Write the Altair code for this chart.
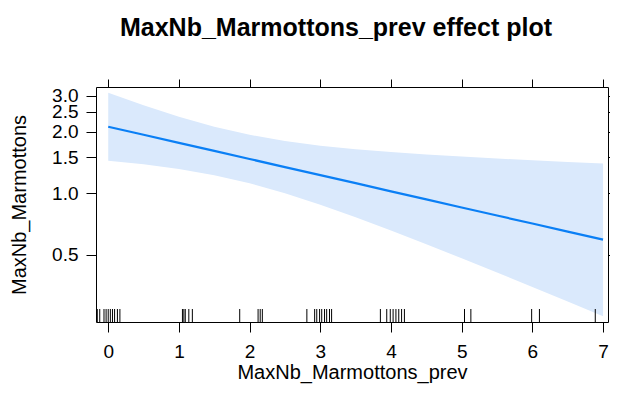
import altair as alt
import pandas as pd

# Effect estimates
x_vals = [0, 0.5, 1, 1.5, 2, 2.5, 3, 3.5, 4, 4.5, 5, 5.5, 6, 6.5, 7]
fit = [2.115, 1.931, 1.763, 1.610, 1.470, 1.342, 1.225, 1.119, 1.021, 0.932, 0.851, 0.777, 0.710, 0.648, 0.592]
upper = [3.105, 2.694, 2.368, 2.116, 1.931, 1.802, 1.709, 1.642, 1.589, 1.547, 1.510, 1.478, 1.449, 1.423, 1.398]
lower = [1.441, 1.384, 1.313, 1.224, 1.119, 0.999, 0.878, 0.762, 0.656, 0.562, 0.480, 0.409, 0.347, 0.295, 0.250]

# Rug (jittered observed values)
rug = [-0.155, -0.12, -0.06, -0.03, 0.0, 0.03, 0.06, 0.09, 0.13, 0.165,
       1.05, 1.07, 1.09, 1.14, 1.19,
       1.86, 2.12, 2.15, 2.18,
       2.81, 2.92, 2.95, 2.99, 3.02, 3.06, 3.09, 3.13, 3.16,
       3.85, 3.94, 3.99, 4.03, 4.07, 4.11, 4.15, 4.19,
       5.04, 5.13,
       5.99, 6.10,
       6.89]

x_ticks = [0, 1, 2, 3, 4, 5, 6, 7]
y_ticks = [0.5, 1.0, 1.5, 2.0, 2.5, 3.0]

df = pd.DataFrame({"x": x_vals, "fit": fit, "upper": upper, "lower": lower})
rug_df = pd.DataFrame({"r": rug})

W, H = 512, 235
FONT = "Liberation Sans"

xscale = alt.Scale(domain=[-0.173, 7.07], nice=False, zero=False)
yscale = alt.Scale(type="log", domain=[0.234, 3.31], nice=False)

band = alt.Chart(df).mark_area(color="#DAE9FC", opacity=1).encode(
    x=alt.X("x:Q", scale=xscale,
            axis=alt.Axis(values=x_ticks, orient="bottom", title="MaxNb_Marmottons_prev",
                          format="d", tickSize=10, labelPadding=10, titlePadding=1)),
    y=alt.Y("upper:Q", scale=yscale,
            axis=alt.Axis(values=y_ticks, orient="left", title="MaxNb_Marmottons",
                          format=".1f", tickSize=10, labelPadding=8, titlePadding=22,
                          labelOverlap=False)),
    y2="lower:Q",
)

line = alt.Chart(df).mark_line(color="#0A7FF5", strokeWidth=2.2).encode(
    x=alt.X("x:Q", scale=xscale,
            axis=alt.Axis(values=x_ticks, orient="top", labels=False, title=None, tickSize=8)),
    y=alt.Y("fit:Q", scale=yscale,
            axis=alt.Axis(values=y_ticks, orient="right", labels=False, title=None, tickSize=8)),
)

rug_layer = alt.Chart(rug_df).mark_rule(color="black", strokeWidth=1).encode(
    x=alt.X("r:Q", scale=xscale, axis=None),
    y=alt.value(H),
    y2=alt.value(H - 13),
)

chart = (
    alt.layer(band, line, rug_layer)
    .resolve_axis(x="independent", y="independent")
    .properties(
        width=W,
        height=H,
        title=alt.TitleParams(
            text="MaxNb_Marmottons_prev effect plot",
            font=FONT, fontSize=25, fontWeight="bold", color="black",
            anchor="middle", frame="group", dx=-16, offset=18,
            baseline="alphabetic",
        ),
        autosize=alt.AutoSizeParams(type="none"),
        padding={"left": 88, "top": 79, "right": 2, "bottom": 62},
    )
    .configure_view(stroke="black", strokeWidth=1)
    .configure_axis(
        domain=False, grid=False, tickColor="black", tickWidth=1,
        labelFont=FONT, labelFontSize=19, labelColor="black",
        titleFont=FONT, titleFontSize=20, titleColor="black", titleFontWeight="normal",
    )
)

chart.save("out.html", embed_options={"renderer": "svg", "actions": False})
